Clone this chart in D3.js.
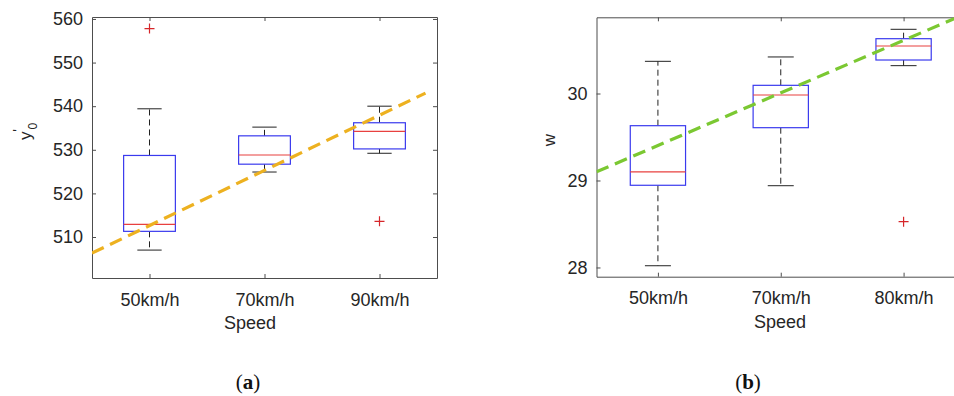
<!DOCTYPE html>
<html>
<head>
<meta charset="utf-8">
<script src="https://cdn.jsdelivr.net/npm/d3@7"></script>
<style>
  body { margin: 0; background: #fff; overflow: hidden; }
  svg { display: block; }
  .tick text { font-family: "Liberation Sans", Arial, sans-serif; font-size: 18px; fill: #262626; }
  .domain, .tick line { stroke: #4d4d4d; }
</style>
</head>
<body>
<div id="chart"></div>
<script>
// Panel (a): y'0 by speed
var speedsA = ["50km/h", "70km/h", "90km/h"];
var loWhiskA = [507.0, 524.9, 529.2];
var q1A = [511.3, 526.7, 530.2];
var medA = [512.9, 528.8, 534.2];
var q3A = [528.7, 533.2, 536.2];
var hiWhiskA = [539.4, 535.2, 540.0];
var outCatA = ["50km/h", "90km/h"];
var outValA = [557.8, 513.6];
var fitXA = [0.5, 3.4];
var fitYA = [506.3, 543.0];
var yTicksA = [510, 520, 530, 540, 550, 560];

// Panel (b): w by speed
var speedsB = ["50km/h", "70km/h", "80km/h"];
var loWhiskB = [28.02, 28.94, 30.32];
var q1B = [28.945, 29.607, 30.385];
var medB = [29.10, 29.983, 30.546];
var q3B = [29.63, 30.094, 30.63];
var hiWhiskB = [30.37, 30.42, 30.738];
var outCatB = ["80km/h"];
var outValB = [28.526];
var fitXB = [0.5, 3.42];
var fitYB = [29.10, 30.865];
var yTicksB = [28, 29, 30];

var svgWidth = 954;
var svgHeight = 396;

var svg = d3
  .select("#chart")
  .append("svg")
  .attr("width", svgWidth)
  .attr("height", svgHeight);

function drawPanel(p) {
  var g = svg.append("g");

  var xScale = d3.scaleLinear().domain([0.5, 3.5]).range([p.left, p.right]);
  var yScale = d3.scaleLinear().domain(p.yDomain).range([p.bottom, p.top]);
  var catX = function(c) { return xScale(p.cats.indexOf(c) + 1); };

  var clipId = "clip" + p.id;
  svg.append("clipPath").attr("id", clipId)
    .append("rect")
    .attr("x", p.left).attr("y", p.top)
    .attr("width", p.right - p.left).attr("height", p.bottom - p.top);

  // axes with inward ticks (box on, like matlab)
  var bottomAxis = d3.axisBottom(xScale)
    .tickValues([1, 2, 3])
    .tickFormat(function(d) { return p.cats[d - 1]; })
    .tickSizeInner(-4).tickSizeOuter(0).tickPadding(15);
  var leftAxis = d3.axisLeft(yScale)
    .tickValues(p.yTicks)
    .tickFormat(d3.format("d"))
    .tickSizeInner(-4).tickSizeOuter(0).tickPadding(9);

  g.append("g").attr("transform", `translate(0, ${p.bottom})`).call(bottomAxis);
  g.append("g").attr("transform", `translate(${p.left}, 0)`).call(leftAxis);
  g.append("g").attr("transform", `translate(0, ${p.top})`)
    .call(d3.axisTop(xScale).tickValues([1, 2, 3]).tickFormat("").tickSizeInner(-4).tickSizeOuter(0));
  g.append("g").attr("transform", `translate(${p.right}, 0)`)
    .call(d3.axisRight(yScale).tickValues(p.yTicks).tickFormat("").tickSizeInner(-4).tickSizeOuter(0));

  var boxW = (xScale(1) - xScale(0)) * 0.45;
  var capW = boxW * 0.47;

  var boxes = p.cats.map(function(c, i) {
    return { x: xScale(i + 1), lo: p.lo[i], q1: p.q1[i], med: p.med[i], q3: p.q3[i], hi: p.hi[i] };
  });

  var bg = g.append("g").selectAll("g").data(boxes).enter().append("g");

  // whiskers
  bg.append("line")
    .attr("x1", d => d.x).attr("x2", d => d.x)
    .attr("y1", d => yScale(d.q3)).attr("y2", d => yScale(d.hi))
    .attr("stroke", "#222").attr("stroke-dasharray", "6,4");
  bg.append("line")
    .attr("x1", d => d.x).attr("x2", d => d.x)
    .attr("y1", d => yScale(d.q1)).attr("y2", d => yScale(d.lo))
    .attr("stroke", "#222").attr("stroke-dasharray", "6,4");
  bg.append("line")
    .attr("x1", d => d.x - capW / 2).attr("x2", d => d.x + capW / 2)
    .attr("y1", d => yScale(d.hi)).attr("y2", d => yScale(d.hi))
    .attr("stroke", "#222");
  bg.append("line")
    .attr("x1", d => d.x - capW / 2).attr("x2", d => d.x + capW / 2)
    .attr("y1", d => yScale(d.lo)).attr("y2", d => yScale(d.lo))
    .attr("stroke", "#222");

  // boxes
  bg.append("rect")
    .attr("x", d => d.x - boxW / 2)
    .attr("y", d => yScale(d.q3))
    .attr("width", boxW)
    .attr("height", d => yScale(d.q1) - yScale(d.q3))
    .attr("fill", "#fff")
    .attr("stroke", "#3a3aee")
    .attr("stroke-width", 1.2);

  // medians
  bg.append("line")
    .attr("x1", d => d.x - boxW / 2).attr("x2", d => d.x + boxW / 2)
    .attr("y1", d => yScale(d.med)).attr("y2", d => yScale(d.med))
    .attr("stroke", "#e8403f").attr("stroke-width", 1.2);

  // outliers
  var outs = p.outCat.map(function(c, i) { return { x: catX(c), y: yScale(p.outVal[i]) }; });
  g.append("g").selectAll("path").data(outs).enter().append("path")
    .attr("d", d => `M${d.x - 5},${d.y}H${d.x + 5}M${d.x},${d.y - 5}V${d.y + 5}`)
    .attr("stroke", "#d6262a").attr("stroke-width", 1.2);

  // fitted trend line
  var fitLine = d3.line().x(d => xScale(d[0])).y(d => yScale(d[1]));
  g.append("path")
    .datum([[p.fitX[0], p.fitY[0]], [p.fitX[1], p.fitY[1]]])
    .attr("clip-path", `url(#${clipId})`)
    .attr("d", fitLine)
    .attr("fill", "none")
    .attr("stroke", p.fitColor)
    .attr("stroke-width", 3.2)
    .attr("stroke-dasharray", "13,7");

  // x label
  g.append("text")
    .attr("x", p.xLabelX).attr("y", p.bottom + 51)
    .attr("text-anchor", "middle")
    .style("font-family", "Liberation Sans, Arial, sans-serif")
    .style("font-size", "18px").style("fill", "#262626")
    .text("Speed");

  // caption
  var cap = svg.append("text")
    .attr("x", p.capX).attr("y", 389)
    .attr("text-anchor", "middle")
    .style("font-family", "Liberation Serif, Times New Roman, serif")
    .style("font-size", "21px").style("fill", "#111");
  cap.append("tspan").text("(");
  cap.append("tspan").style("font-weight", "bold").text(p.capLetter);
  cap.append("tspan").text(")");

  return g;
}

var gA = drawPanel({
  id: "A", left: 92, right: 437, top: 17, bottom: 278,
  yDomain: [500.6, 560.45], yTicks: yTicksA, cats: speedsA,
  lo: loWhiskA, q1: q1A, med: medA, q3: q3A, hi: hiWhiskA,
  outCat: outCatA, outVal: outValA, fitX: fitXA, fitY: fitYA,
  fitColor: "#EDB120", xLabelX: 250, capX: 248, capLetter: "a"
});

var gB = drawPanel({
  id: "B", left: 596.5, right: 965, top: 17.3, bottom: 276.7,
  yDomain: [27.894, 30.876], yTicks: yTicksB, cats: speedsB,
  lo: loWhiskB, q1: q1B, med: medB, q3: q3B, hi: hiWhiskB,
  outCat: outCatB, outVal: outValB, fitX: fitXB, fitY: fitYB,
  fitColor: "#7bc832", xLabelX: 780, capX: 748, capLetter: "b"
});

// y labels
var yLabA = gA.append("g").attr("transform", "translate(30.5, 140) rotate(-90)");
var tA = yLabA.append("text")
  .attr("text-anchor", "start")
  .style("font-family", "Liberation Sans, Arial, sans-serif")
  .style("font-size", "17px").style("fill", "#262626");
tA.append("tspan").text("y");
tA.append("tspan").attr("dx", 2).attr("dy", 6).style("font-size", "12px").text("0");
yLabA.append("text")
  .attr("x", 9.5).attr("y", -8)
  .attr("text-anchor", "middle")
  .style("font-family", "Liberation Sans, Arial, sans-serif")
  .style("font-size", "14px").style("fill", "#262626")
  .text("'");

gB.append("text")
  .attr("transform", "translate(555, 140) rotate(-90)")
  .attr("text-anchor", "middle")
  .style("font-family", "Liberation Sans, Arial, sans-serif")
  .style("font-size", "17px").style("fill", "#262626")
  .text("w");
</script>
</body>
</html>
